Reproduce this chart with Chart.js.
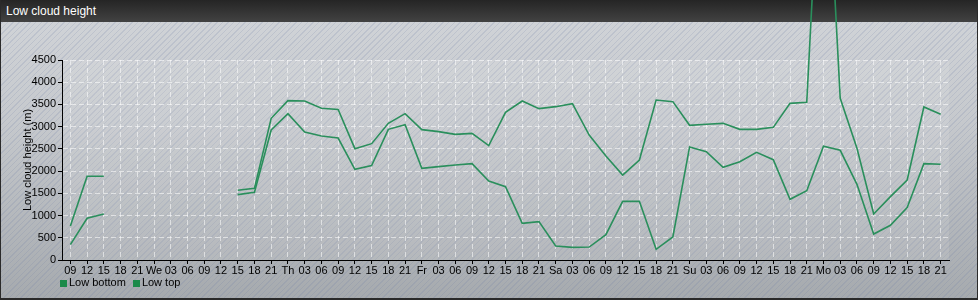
<!DOCTYPE html>
<html>
<head>
<meta charset="utf-8">
<script src="https://cdn.jsdelivr.net/npm/chart.js@4/dist/chart.umd.min.js"></script>
<style>
  html, body { margin: 0; padding: 0; }
  #wrap { position: relative; width: 978px; height: 300px; overflow: hidden; box-sizing: border-box;
    border-left: 1px solid #2a2a2a; border-right: 1px solid #2a2a2a; border-bottom: 2px solid #2a2a2a;
    background:
      repeating-linear-gradient(135deg, rgba(110,125,165,0.18) 0px, rgba(110,125,165,0.18) 1px, rgba(255,255,255,0) 1px, rgba(255,255,255,0) 4px),
      linear-gradient(to bottom, #d2d5d9 0%, #c6c9cd 40%, #a6aaae 100%);
    font-family: "Liberation Sans", Arial, sans-serif; }
  #titlebar { position: absolute; left: 0; top: 0; width: 100%; height: 22px;
    background: linear-gradient(to bottom, #252525 0%, #424242 100%); }
  #title { position: absolute; left: 5px; top: 4px; color: #fff; font-size: 12px; }
  #chart { position: absolute; left: -1px; top: 0; }
  #legend { position: absolute; left: 59px; top: 276px; font-size: 11px; color: #000; display: flex; }
  .item { display: flex; align-items: center; margin-right: 7px; }
  .sw { width: 7px; height: 7px; margin-right: 2px; margin-top: 2px; }
</style>
</head>
<body>
<div id="wrap">
  <div id="titlebar"><div id="title">Low cloud height</div></div>
  <canvas id="chart" width="978" height="300"></canvas>
  <div id="legend"></div>
</div>
<script>
const categories = [
  "09","12","15","18","21",
  "We","03","06","09","12","15","18","21",
  "Th","03","06","09","12","15","18","21",
  "Fr","03","06","09","12","15","18","21",
  "Sa","03","06","09","12","15","18","21",
  "Su","03","06","09","12","15","18","21",
  "Mo","03","06","09","12","15","18","21"
];
const lowBottom = [
  345, 938, 1035, null, null,
  null, null, null, null, null, 1470, 1523, 2925,
  3293, 2880, 2790, 2745, 2040, 2123, 2940, 3045,
  2062, 2100, 2137, 2168, 1778, 1650, 825, 863,
  315, 285, 292, 570, 1320, 1320, 240, 518,
  2543, 2438, 2085, 2213, 2423, 2258, 1365, 1560,
  2558, 2468, 1703, 585, 780, 1178, 2168, 2153
];
const lowTop = [
  765, 1883, 1883, null, null,
  null, null, null, null, null, 1568, 1613, 3188,
  3585, 3578, 3413, 3385, 2505, 2618, 3075, 3293,
  2933, 2888, 2827, 2850, 2573, 3322, 3578, 3405,
  3450, 3518, 2812, 2340, 1912, 2250, 3600, 3563,
  3030, 3053, 3075, 2940, 2940, 2985, 3525, 3548,
  10800, 3637, 2513, 1035, 1425, 1800, 3443, 3278
];
const yTicks = [0, 500, 1000, 1500, 2000, 2500, 3000, 3500, 4000, 4500];
const seriesNames = ["Low bottom", "Low top"];
const lineColor = "#2a8f5c";
const legendColor = "#1b8a4a";

const plotBg = {
  id: 'plotBg',
  beforeDraw(chart) {
    const a = chart.chartArea, c = chart.ctx;
    c.save();
    c.fillStyle = 'rgba(255,255,255,0.10)';
    c.fillRect(a.left, a.top, a.right - a.left, a.bottom - a.top);
    c.restore();
  }
};

const gridOpts = {
  color: 'rgba(255,255,255,0.55)',
  lineWidth: 1,
  tickColor: '#000',
  tickLength: 4,
  tickWidth: 1,
  tickBorderDash: [],
  drawTicks: true
};

new Chart(document.getElementById('chart'), {
  type: 'line',
  data: {
    labels: categories,
    datasets: [
      { label: seriesNames[0], data: lowBottom, borderColor: lineColor, backgroundColor: legendColor,
        borderWidth: 1.6, pointRadius: 0, tension: 0, spanGaps: false, clip: false },
      { label: seriesNames[1], data: lowTop, borderColor: lineColor, backgroundColor: legendColor,
        borderWidth: 1.6, pointRadius: 0, tension: 0, spanGaps: false, clip: false }
    ]
  },
  options: {
    responsive: false,
    animation: false,
    devicePixelRatio: 1,
    layout: { padding: { left: 17, top: 60, right: 29, bottom: 0 } },
    plugins: { legend: { display: false }, title: { display: false }, tooltip: { enabled: false } },
    scales: {
      x: {
        type: 'category',
        offset: true,
        grid: Object.assign({}, gridOpts, { offset: false, tickLength: 4 }),
        border: { display: true, color: '#000', width: 1, dash: [5, 3] },
        ticks: { autoSkip: false, maxRotation: 0, minRotation: 0, padding: 0, color: '#000',
                 font: { family: '"Liberation Sans", Arial, sans-serif', size: 11 } },
        afterFit(s) { s.height = 40; }
      },
      y: {
        min: 0, max: 4500,
        afterBuildTicks(s) { s.ticks = yTicks.map(v => ({ value: v })); },
        grid: Object.assign({}, gridOpts),
        border: { display: true, color: '#000', width: 1, dash: [5, 3] },
        ticks: { padding: 2, color: '#000', callback: v => String(v),
                 font: { family: '"Liberation Sans", Arial, sans-serif', size: 11 } },
        title: { display: true, text: 'Low cloud height (m)', color: '#000', padding: { top: 4, bottom: 4 },
                 font: { family: '"Liberation Sans", Arial, sans-serif', size: 11 } },
        afterFit(s) { s.width = 45; }
      }
    }
  },
  plugins: [plotBg]
});

const lg = document.getElementById('legend');
seriesNames.forEach(n => {
  const it = document.createElement('div'); it.className = 'item';
  const sw = document.createElement('div'); sw.className = 'sw'; sw.style.background = legendColor;
  const tx = document.createElement('span'); tx.textContent = n;
  it.appendChild(sw); it.appendChild(tx); lg.appendChild(it);
});
</script>
</body>
</html>
